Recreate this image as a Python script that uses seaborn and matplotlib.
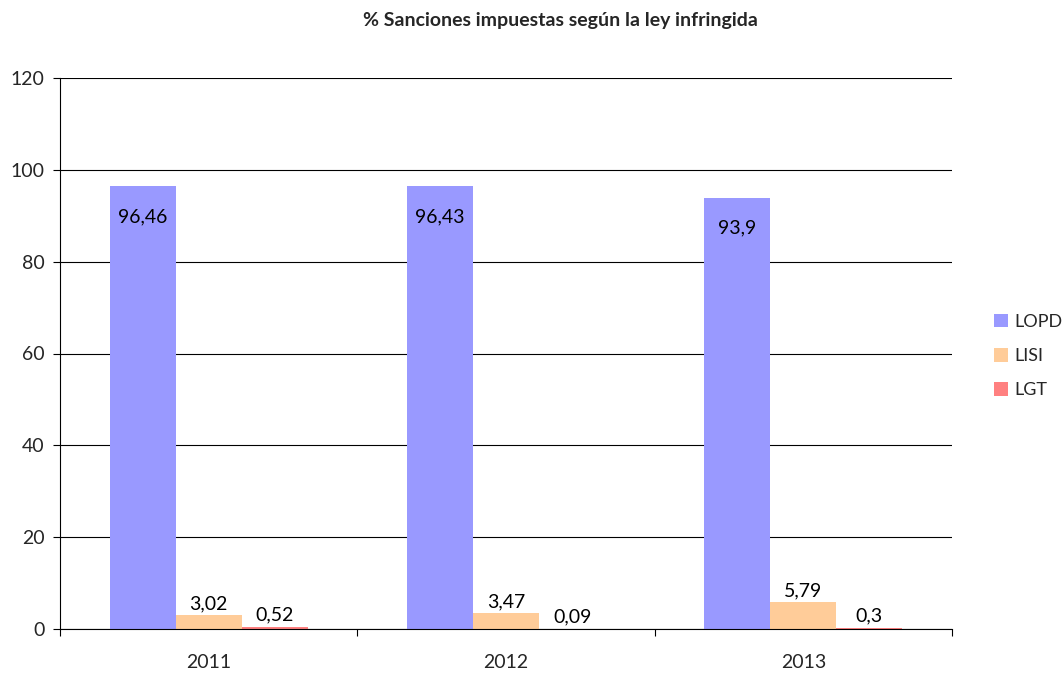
import matplotlib
matplotlib.use("Agg")
import matplotlib.pyplot as plt
import seaborn as sns
import pandas as pd
import numpy as np
from matplotlib.ticker import FixedLocator, NullFormatter

years = ["2011", "2012", "2013"]
series = ["LOPD", "LISI", "LGT"]
lopd = [96.46, 96.43, 93.9]
lisi = [3.02, 3.47, 5.79]
lgt = [0.52, 0.09, 0.3]
labels = {
    "LOPD": ["96,46", "96,43", "93,9"],
    "LISI": ["3,02", "3,47", "5,79"],
    "LGT": ["0,52", "0,09", "0,3"],
}
colors = ["#9999FF", "#FFCC99", "#FF8080"]
yticks = [0, 20, 40, 60, 80, 100, 120]

df = pd.DataFrame({
    "year": years * 3,
    "ley": ["LOPD"] * 3 + ["LISI"] * 3 + ["LGT"] * 3,
    "value": lopd + lisi + lgt,
})

sns.set_style("white")
plt.rcParams["font.family"] = ["Lato", "DejaVu Sans"]
FS = 14

fig = plt.figure(figsize=(10.63, 6.75), dpi=100)
ax = fig.add_axes([60 / 1063, 46 / 675, 892 / 1063, 551 / 675])

sns.barplot(data=df, x="year", y="value", hue="ley", order=years,
            hue_order=series, palette=colors, width=2 / 3, gap=0,
            saturation=1, ax=ax, legend=True, linewidth=0, edgecolor="none")

for cont, s in zip(ax.containers, series):
    if s == "LOPD":
        ax.bar_label(cont, labels=labels[s], padding=-28, fontsize=FS, color="black")
    else:
        ax.bar_label(cont, labels=labels[s], padding=2, fontsize=FS, color="black")

ax.set_ylim(0, 120)
ax.set_xlim(-0.5, 2.5)
ax.set_yticks(yticks)
ax.set_yticklabels([str(t) for t in yticks], fontsize=FS)
ax.yaxis.grid(True, color="black", linewidth=0.8)
ax.set_axisbelow(True)
ax.set_xlabel("")
ax.set_ylabel("")
ax.tick_params(axis="y", length=5, width=0.8, color="black", direction="out", left=True, pad=6)
ax.tick_params(axis="x", which="major", length=0, labelsize=FS, pad=18)
ax.xaxis.set_minor_locator(FixedLocator([-0.5, 0.5, 1.5, 2.5]))
ax.xaxis.set_minor_formatter(NullFormatter())
ax.tick_params(axis="x", which="minor", length=5, width=0.8, color="black", direction="out", bottom=True)

for side in ["top", "right"]:
    ax.spines[side].set_visible(False)
for side in ["left", "bottom"]:
    ax.spines[side].set_visible(True)
    ax.spines[side].set_color("black")
    ax.spines[side].set_linewidth(0.8)

fig.suptitle("% Sanciones impuestas según la ley infringida", x=0.527, y=0.982,
             fontsize=FS, fontweight="bold")

handles, lbls = ax.get_legend_handles_labels()
ax.legend(handles, lbls, loc="center left", bbox_to_anchor=(994 / 1063, (675 - 356) / 675),
          bbox_transform=fig.transFigure, frameon=False, fontsize=13,
          handlelength=0.8, handleheight=0.8, labelspacing=1.0, handletextpad=0.35,
          borderpad=0, borderaxespad=0)

fig.savefig("out.png", dpi=100)
